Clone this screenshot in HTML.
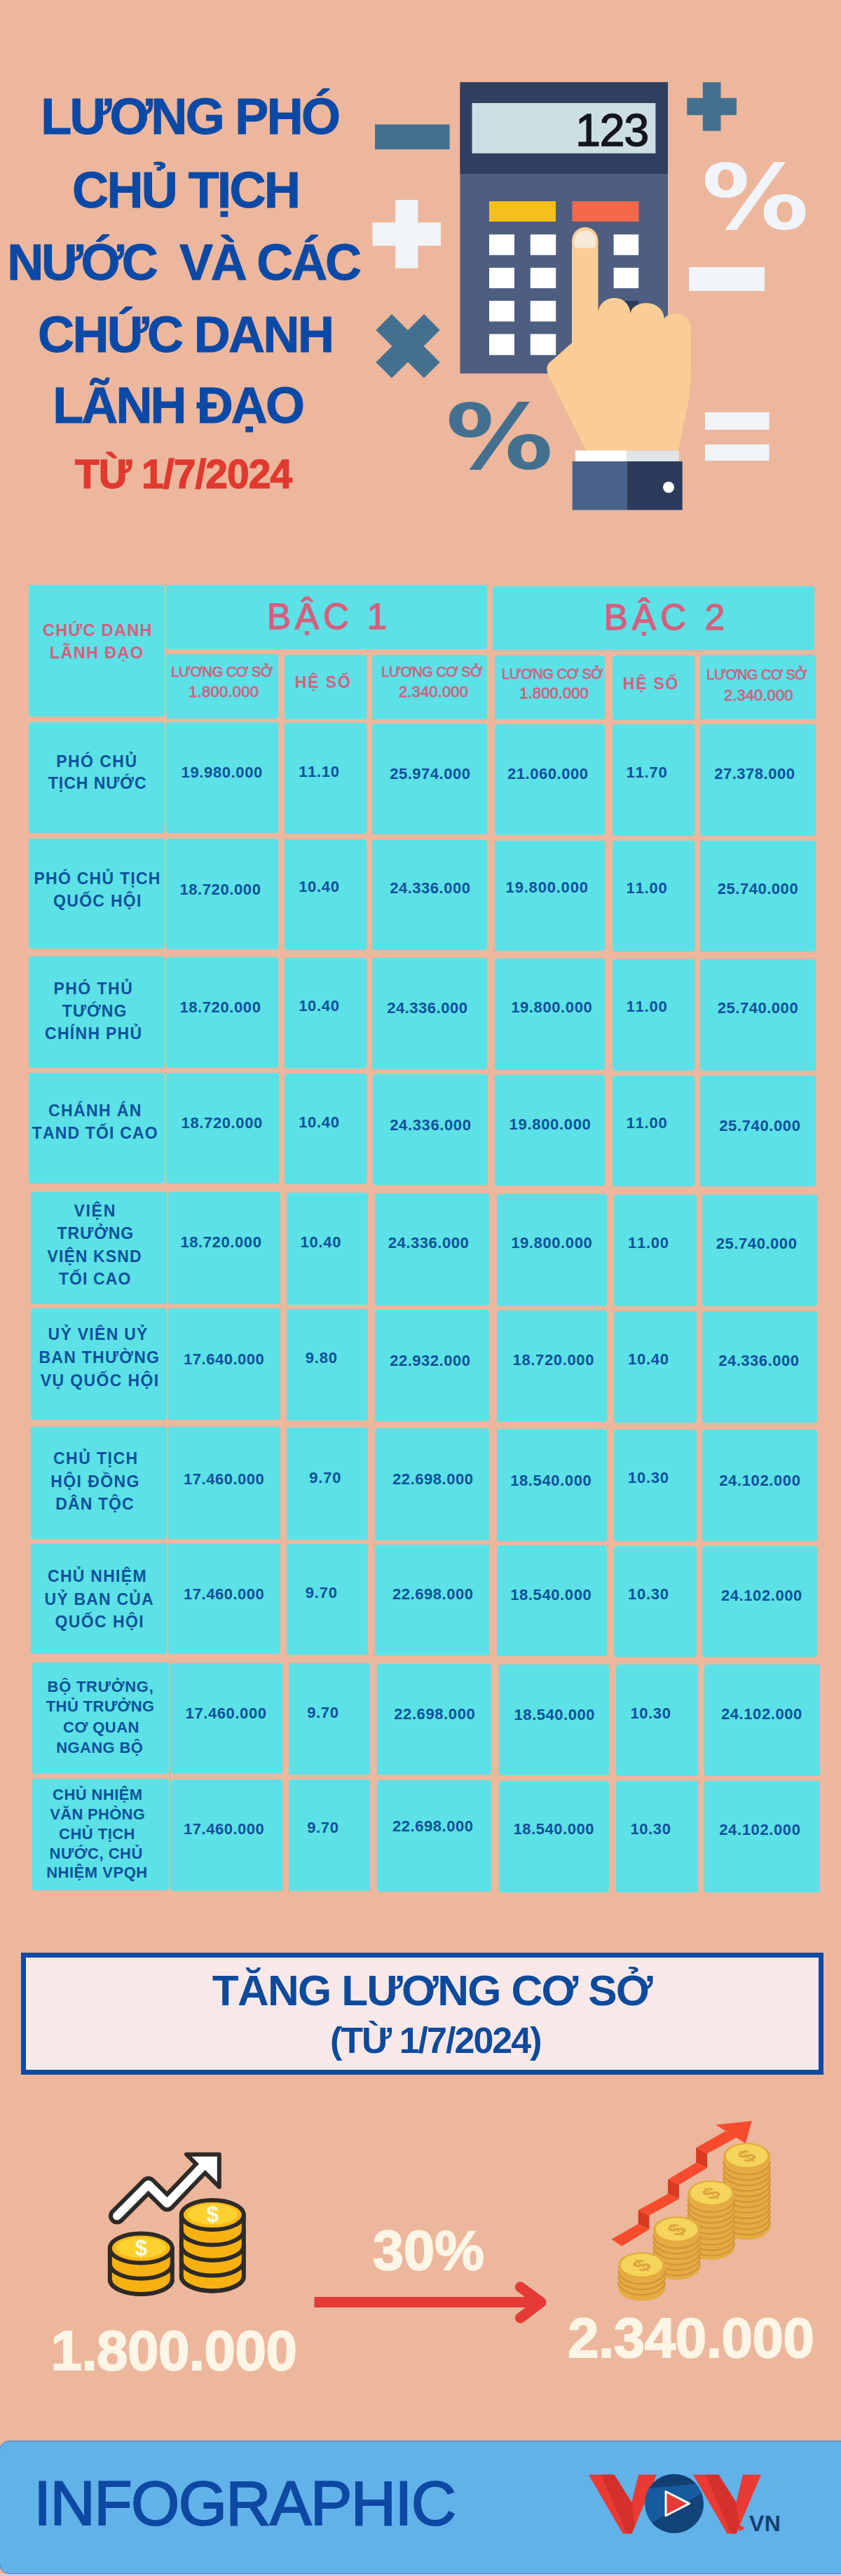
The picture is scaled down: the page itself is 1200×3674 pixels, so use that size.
<!DOCTYPE html>
<html lang="vi"><head><meta charset="utf-8"><title>Infographic</title>
<style>
html,body{margin:0;padding:0}
body{width:1200px;height:3674px;position:relative;overflow:hidden;background:#ecb79d;font-family:"Liberation Sans",sans-serif;font-kerning:none}
.r{position:absolute}
.t{position:absolute;white-space:nowrap;font-kerning:none}
svg{position:absolute;left:0;overflow:visible}
svg text{font-family:"Liberation Sans",sans-serif;font-kerning:none}
</style></head><body>
<svg width="1200" height="800" viewBox="0 0 1200 800" style="top:0">
<g fill="#44708f">
<rect x="535" y="177.5" width="106.6" height="35.5"/>
<rect x="980.3" y="139.8" width="70.7" height="24.4"/>
<rect x="1002.8" y="117.3" width="25.7" height="69.4"/>
<g transform="translate(582,493.7) rotate(45)"><rect x="-48.5" y="-16" width="97" height="32"/><rect x="-16" y="-48.5" width="32" height="97"/></g>
<text transform="translate(640.9,667.9) scale(1.194,1)" x="-4.13" y="0" font-size="128.2" font-weight="700" style="font-family:'DejaVu Sans','Liberation Sans',sans-serif">%</text>
</g>
<g fill="#f1f4f9">
<rect x="531.4" y="317.3" width="97.6" height="33.2"/>
<rect x="564.2" y="285.2" width="32.1" height="97.4"/>
<rect x="983" y="381" width="108" height="34"/>
<rect x="1006" y="588" width="91.6" height="25"/>
<rect x="1006" y="634" width="91.6" height="23"/>
<text transform="translate(1006,326.2) scale(1.194,1)" x="-4.13" y="0" font-size="128.2" font-weight="700" style="font-family:'DejaVu Sans','Liberation Sans',sans-serif">%</text>
</g>
<rect x="656.5" y="117.3" width="296.5" height="415.4" fill="#4e5e80"/>
<rect x="656.5" y="117.3" width="296.5" height="130.7" fill="#2f3f60"/>
<rect x="673.5" y="147" width="261.9" height="71.7" fill="#cddde4"/>
<text x="925" y="207.5" text-anchor="end" font-size="64" fill="#14161c" stroke="#14161c" stroke-width="1.6" letter-spacing="-1">123</text>
<rect x="698" y="287" width="95" height="29" fill="#f6bf1b"/>
<rect x="816.5" y="287" width="95" height="29" fill="#f4694a"/>
<g fill="#ffffff">
<rect x="698" y="334.4" width="36" height="29.4"/><rect x="756.8" y="334.4" width="36.4" height="29.4"/><rect x="875.6" y="334.4" width="35.6" height="29.4"/>
<rect x="698" y="381.9" width="36" height="29.2"/><rect x="756.8" y="381.9" width="36.4" height="29.2"/><rect x="875.6" y="381.9" width="35.6" height="29.2"/>
<rect x="698" y="429" width="36" height="29.5"/><rect x="756.8" y="429" width="36.4" height="29.5"/>
<rect x="698" y="476.4" width="36" height="30"/><rect x="756.8" y="476.4" width="36.4" height="30"/>
</g>
<rect x="875.6" y="429" width="35.6" height="29.5" fill="#2c3c5c"/>
<path fill="#f9cd95" d="M816,343 A18.75,19 0 0 1 853.5,343 L853.5,446 C856,419 897,417 899.5,447 C902,427 946,425 948,455 C950,445 986,440 986,470 L986,532 C986,570 975,605 968,642 L836,642 L786,541 C777,527 779,520 790,512 L816,489 Z"/>
<path fill="#f8ead9" d="M819,343 A15.5,14.5 0 0 1 850,343 L850,349 Q850,353.5 845.5,353.5 L823.5,353.5 Q819,353.5 819,349 Z"/>
<rect x="821" y="642.5" width="73.5" height="15.5" fill="#ffffff"/>
<rect x="894.5" y="642.5" width="74.5" height="15.5" fill="#dfe4e6"/>
<rect x="816.7" y="658" width="77.8" height="69.4" fill="#48628a"/>
<rect x="894.5" y="658" width="79.2" height="69.4" fill="#2b3b5b"/>
<circle cx="954" cy="695" r="8" fill="#ffffff"/>
</svg>

<div class="t" style="left:58.18px;top:130.04px;font-size:72px;line-height:72px;color:#0b49a6;font-weight:700;letter-spacing:-2.66px;-webkit-text-stroke:0.9px #0b49a6;">LƯƠNG PHÓ</div>
<div class="t" style="left:103.05px;top:234.54px;font-size:72px;line-height:72px;color:#0b49a6;font-weight:700;letter-spacing:-2.59px;-webkit-text-stroke:0.9px #0b49a6;">CHỦ TỊCH</div>
<div class="t" style="left:10.18px;top:337.54px;font-size:72px;line-height:72px;color:#0b49a6;font-weight:700;letter-spacing:-3.22px;white-space:pre;-webkit-text-stroke:0.9px #0b49a6;">NƯỚC  VÀ CÁC</div>
<div class="t" style="left:54.05px;top:441.04px;font-size:72px;line-height:72px;color:#0b49a6;font-weight:700;letter-spacing:-2.61px;-webkit-text-stroke:0.9px #0b49a6;">CHỨC DANH</div>
<div class="t" style="left:75.18px;top:542.04px;font-size:72px;line-height:72px;color:#0b49a6;font-weight:700;letter-spacing:-2.88px;-webkit-text-stroke:0.9px #0b49a6;">LÃNH ĐẠO</div>
<div class="t" style="left:106.96px;top:647.74px;font-size:57px;line-height:57px;color:#e0392f;font-weight:700;letter-spacing:-0.95px;-webkit-text-stroke:1.3px #e0392f;">TỪ 1/7/2024</div>
<div class="r" style="left:41.4px;top:833.5px;width:193.2px;height:188.9px;background:#5ce1e6;border-radius:4px;"></div>
<div class="r" style="left:236.8px;top:833.6px;width:458.1px;height:92.6px;background:#5ce1e6;border-radius:4px;"></div>
<div class="r" style="left:703.4px;top:835.8px;width:459.0px;height:91.2px;background:#5ce1e6;border-radius:4px;"></div>
<div class="r" style="left:236.8px;top:932.8px;width:160.5px;height:92.0px;background:#5ce1e6;border-radius:4px;"></div>
<div class="r" style="left:405.7px;top:933.8px;width:117.0px;height:91.8px;background:#5ce1e6;border-radius:4px;"></div>
<div class="r" style="left:530.8px;top:934.3px;width:164.1px;height:91.7px;background:#5ce1e6;border-radius:4px;"></div>
<div class="r" style="left:705.8px;top:934.8px;width:157.5px;height:91.7px;background:#5ce1e6;border-radius:4px;"></div>
<div class="r" style="left:873.7px;top:935.2px;width:117.1px;height:91.8px;background:#5ce1e6;border-radius:4px;"></div>
<div class="r" style="left:998.9px;top:933.8px;width:164.9px;height:92.5px;background:#5ce1e6;border-radius:4px;"></div>
<div class="r" style="left:41.4px;top:1029.5px;width:193.2px;height:158.5px;background:#5ce1e6;border-radius:4px;"></div>
<div class="r" style="left:236.8px;top:1029.9px;width:160.5px;height:158.5px;background:#5ce1e6;border-radius:4px;"></div>
<div class="r" style="left:405.7px;top:1030.8px;width:117.0px;height:158.5px;background:#5ce1e6;border-radius:4px;"></div>
<div class="r" style="left:530.8px;top:1031.6px;width:164.1px;height:158.5px;background:#5ce1e6;border-radius:4px;"></div>
<div class="r" style="left:705.8px;top:1032.5px;width:157.5px;height:158.5px;background:#5ce1e6;border-radius:4px;"></div>
<div class="r" style="left:873.7px;top:1033.3px;width:117.1px;height:158.5px;background:#5ce1e6;border-radius:4px;"></div>
<div class="r" style="left:998.9px;top:1033.3px;width:164.9px;height:158.5px;background:#5ce1e6;border-radius:4px;"></div>
<div class="r" style="left:41.4px;top:1195.5px;width:193.2px;height:157.8px;background:#5ce1e6;border-radius:4px;"></div>
<div class="r" style="left:236.8px;top:1195.9px;width:160.5px;height:157.8px;background:#5ce1e6;border-radius:4px;"></div>
<div class="r" style="left:405.7px;top:1196.8px;width:117.0px;height:157.8px;background:#5ce1e6;border-radius:4px;"></div>
<div class="r" style="left:530.8px;top:1197.6px;width:164.1px;height:157.8px;background:#5ce1e6;border-radius:4px;"></div>
<div class="r" style="left:705.8px;top:1198.5px;width:157.5px;height:157.8px;background:#5ce1e6;border-radius:4px;"></div>
<div class="r" style="left:873.7px;top:1199.3px;width:117.1px;height:157.8px;background:#5ce1e6;border-radius:4px;"></div>
<div class="r" style="left:998.9px;top:1199.3px;width:164.9px;height:157.8px;background:#5ce1e6;border-radius:4px;"></div>
<div class="r" style="left:41.4px;top:1364.3px;width:193.2px;height:158.5px;background:#5ce1e6;border-radius:4px;"></div>
<div class="r" style="left:236.8px;top:1364.7px;width:160.5px;height:158.5px;background:#5ce1e6;border-radius:4px;"></div>
<div class="r" style="left:405.7px;top:1365.6px;width:117.0px;height:158.5px;background:#5ce1e6;border-radius:4px;"></div>
<div class="r" style="left:530.8px;top:1366.4px;width:164.1px;height:158.5px;background:#5ce1e6;border-radius:4px;"></div>
<div class="r" style="left:705.8px;top:1367.3px;width:157.5px;height:158.5px;background:#5ce1e6;border-radius:4px;"></div>
<div class="r" style="left:873.7px;top:1368.1px;width:117.1px;height:158.5px;background:#5ce1e6;border-radius:4px;"></div>
<div class="r" style="left:998.9px;top:1368.1px;width:164.9px;height:158.5px;background:#5ce1e6;border-radius:4px;"></div>
<div class="r" style="left:41.4px;top:1529.7px;width:193.3px;height:158.3px;background:#5ce1e6;border-radius:4px;"></div>
<div class="r" style="left:236.8px;top:1530.1px;width:161.7px;height:158.3px;background:#5ce1e6;border-radius:4px;"></div>
<div class="r" style="left:405.7px;top:1531.0px;width:117.0px;height:158.3px;background:#5ce1e6;border-radius:4px;"></div>
<div class="r" style="left:532.0px;top:1531.8px;width:163.8px;height:158.3px;background:#5ce1e6;border-radius:4px;"></div>
<div class="r" style="left:705.8px;top:1532.7px;width:157.5px;height:158.3px;background:#5ce1e6;border-radius:4px;"></div>
<div class="r" style="left:873.7px;top:1533.5px;width:117.3px;height:158.3px;background:#5ce1e6;border-radius:4px;"></div>
<div class="r" style="left:998.9px;top:1533.5px;width:164.9px;height:158.3px;background:#5ce1e6;border-radius:4px;"></div>
<div class="r" style="left:43.5px;top:1700.0px;width:194.1px;height:159.5px;background:#5ce1e6;border-radius:4px;"></div>
<div class="r" style="left:239.6px;top:1700.4px;width:160.4px;height:159.5px;background:#5ce1e6;border-radius:4px;"></div>
<div class="r" style="left:408.6px;top:1701.3px;width:116.4px;height:159.5px;background:#5ce1e6;border-radius:4px;"></div>
<div class="r" style="left:534.6px;top:1702.1px;width:163.4px;height:159.5px;background:#5ce1e6;border-radius:4px;"></div>
<div class="r" style="left:709.0px;top:1703.0px;width:156.6px;height:159.5px;background:#5ce1e6;border-radius:4px;"></div>
<div class="r" style="left:876.0px;top:1703.8px;width:117.8px;height:159.5px;background:#5ce1e6;border-radius:4px;"></div>
<div class="r" style="left:1001.6px;top:1703.8px;width:164.4px;height:159.5px;background:#5ce1e6;border-radius:4px;"></div>
<div class="r" style="left:43.8px;top:1866.0px;width:193.8px;height:159.0px;background:#5ce1e6;border-radius:4px;"></div>
<div class="r" style="left:239.6px;top:1866.4px;width:160.9px;height:159.0px;background:#5ce1e6;border-radius:4px;"></div>
<div class="r" style="left:408.6px;top:1867.3px;width:116.4px;height:159.0px;background:#5ce1e6;border-radius:4px;"></div>
<div class="r" style="left:534.6px;top:1868.1px;width:163.4px;height:159.0px;background:#5ce1e6;border-radius:4px;"></div>
<div class="r" style="left:709.0px;top:1869.0px;width:156.6px;height:159.0px;background:#5ce1e6;border-radius:4px;"></div>
<div class="r" style="left:876.0px;top:1869.8px;width:118.0px;height:159.0px;background:#5ce1e6;border-radius:4px;"></div>
<div class="r" style="left:1001.6px;top:1869.8px;width:164.4px;height:159.0px;background:#5ce1e6;border-radius:4px;"></div>
<div class="r" style="left:43.8px;top:2034.7px;width:193.8px;height:159.9px;background:#5ce1e6;border-radius:4px;"></div>
<div class="r" style="left:239.6px;top:2035.1px;width:160.9px;height:159.9px;background:#5ce1e6;border-radius:4px;"></div>
<div class="r" style="left:408.6px;top:2036.0px;width:116.4px;height:159.9px;background:#5ce1e6;border-radius:4px;"></div>
<div class="r" style="left:534.6px;top:2036.8px;width:163.4px;height:159.9px;background:#5ce1e6;border-radius:4px;"></div>
<div class="r" style="left:709.0px;top:2037.7px;width:156.6px;height:159.9px;background:#5ce1e6;border-radius:4px;"></div>
<div class="r" style="left:876.0px;top:2038.5px;width:118.0px;height:159.9px;background:#5ce1e6;border-radius:4px;"></div>
<div class="r" style="left:1001.6px;top:2038.5px;width:164.4px;height:159.9px;background:#5ce1e6;border-radius:4px;"></div>
<div class="r" style="left:43.8px;top:2201.0px;width:193.8px;height:158.0px;background:#5ce1e6;border-radius:4px;"></div>
<div class="r" style="left:239.6px;top:2201.4px;width:160.9px;height:158.0px;background:#5ce1e6;border-radius:4px;"></div>
<div class="r" style="left:408.6px;top:2202.3px;width:116.4px;height:158.0px;background:#5ce1e6;border-radius:4px;"></div>
<div class="r" style="left:534.6px;top:2203.1px;width:163.4px;height:158.0px;background:#5ce1e6;border-radius:4px;"></div>
<div class="r" style="left:709.0px;top:2204.0px;width:156.6px;height:158.0px;background:#5ce1e6;border-radius:4px;"></div>
<div class="r" style="left:876.0px;top:2204.8px;width:118.0px;height:158.0px;background:#5ce1e6;border-radius:4px;"></div>
<div class="r" style="left:1001.6px;top:2204.8px;width:164.4px;height:158.0px;background:#5ce1e6;border-radius:4px;"></div>
<div class="r" style="left:46.0px;top:2371.4px;width:195.3px;height:158.6px;background:#5ce1e6;border-radius:4px;"></div>
<div class="r" style="left:243.3px;top:2371.7px;width:159.7px;height:158.6px;background:#5ce1e6;border-radius:4px;"></div>
<div class="r" style="left:411.9px;top:2372.3px;width:116.5px;height:158.6px;background:#5ce1e6;border-radius:4px;"></div>
<div class="r" style="left:538.0px;top:2372.9px;width:163.0px;height:158.6px;background:#5ce1e6;border-radius:4px;"></div>
<div class="r" style="left:711.5px;top:2373.6px;width:157.5px;height:158.6px;background:#5ce1e6;border-radius:4px;"></div>
<div class="r" style="left:879.4px;top:2374.1px;width:117.1px;height:158.6px;background:#5ce1e6;border-radius:4px;"></div>
<div class="r" style="left:1005.0px;top:2374.1px;width:165.0px;height:158.6px;background:#5ce1e6;border-radius:4px;"></div>
<div class="r" style="left:46.0px;top:2537.3px;width:195.3px;height:159.1px;background:#5ce1e6;border-radius:4px;"></div>
<div class="r" style="left:243.3px;top:2537.6px;width:159.7px;height:159.1px;background:#5ce1e6;border-radius:4px;"></div>
<div class="r" style="left:411.9px;top:2538.2px;width:116.5px;height:159.1px;background:#5ce1e6;border-radius:4px;"></div>
<div class="r" style="left:538.0px;top:2538.8px;width:163.0px;height:159.1px;background:#5ce1e6;border-radius:4px;"></div>
<div class="r" style="left:711.5px;top:2539.5px;width:157.5px;height:159.1px;background:#5ce1e6;border-radius:4px;"></div>
<div class="r" style="left:879.4px;top:2540.0px;width:117.1px;height:159.1px;background:#5ce1e6;border-radius:4px;"></div>
<div class="r" style="left:1005.0px;top:2540.0px;width:165.0px;height:159.1px;background:#5ce1e6;border-radius:4px;"></div>
<div class="t" style="left:60.94px;top:888.40px;font-size:23.5px;line-height:23.5px;color:#d75e7e;font-weight:700;letter-spacing:1.35px;">CHỨC DANH</div>
<div class="t" style="left:70.73px;top:920.40px;font-size:23.5px;line-height:23.5px;color:#d75e7e;font-weight:700;letter-spacing:1.32px;">LÃNH ĐẠO</div>
<div class="t" style="left:380.78px;top:854.39px;font-size:51.5px;line-height:51.5px;color:#d75e7e;font-weight:400;letter-spacing:5.65px;-webkit-text-stroke:1.3px #d75e7e;">BẬC 1</div>
<div class="t" style="left:861.38px;top:854.89px;font-size:51.5px;line-height:51.5px;color:#d75e7e;font-weight:400;letter-spacing:5.99px;-webkit-text-stroke:1.3px #d75e7e;">BẬC 2</div>
<div class="t" style="left:244.36px;top:948.07px;font-size:20px;line-height:20px;color:#cf6282;font-weight:400;letter-spacing:-0.38px;-webkit-text-stroke:0.8px #cf6282;">LƯƠNG CƠ SỞ</div>
<div class="t" style="left:269.32px;top:975.97px;font-size:22px;line-height:22px;color:#cf6282;font-weight:400;letter-spacing:0.21px;-webkit-text-stroke:0.8px #cf6282;">1.800.000</div>
<div class="t" style="left:420.86px;top:962.23px;font-size:23px;line-height:23px;color:#d75e7e;font-weight:700;letter-spacing:1.88px;">HỆ SỐ</div>
<div class="t" style="left:544.36px;top:948.07px;font-size:20px;line-height:20px;color:#cf6282;font-weight:400;letter-spacing:-0.46px;-webkit-text-stroke:0.8px #cf6282;">LƯƠNG CƠ SỞ</div>
<div class="t" style="left:568.89px;top:975.97px;font-size:22px;line-height:22px;color:#cf6282;font-weight:400;letter-spacing:0.14px;-webkit-text-stroke:0.8px #cf6282;">2.340.000</div>
<div class="t" style="left:716.06px;top:950.57px;font-size:20px;line-height:20px;color:#cf6282;font-weight:400;letter-spacing:-0.41px;-webkit-text-stroke:0.8px #cf6282;">LƯƠNG CƠ SỞ</div>
<div class="t" style="left:741.32px;top:977.87px;font-size:22px;line-height:22px;color:#cf6282;font-weight:400;letter-spacing:0.08px;-webkit-text-stroke:0.8px #cf6282;">1.800.000</div>
<div class="t" style="left:888.86px;top:963.53px;font-size:23px;line-height:23px;color:#d75e7e;font-weight:700;letter-spacing:1.76px;">HỆ SỐ</div>
<div class="t" style="left:1008.36px;top:951.97px;font-size:20px;line-height:20px;color:#cf6282;font-weight:400;letter-spacing:-0.54px;-webkit-text-stroke:0.8px #cf6282;">LƯƠNG CƠ SỞ</div>
<div class="t" style="left:1032.89px;top:980.67px;font-size:22px;line-height:22px;color:#cf6282;font-weight:400;letter-spacing:0.09px;-webkit-text-stroke:0.8px #cf6282;">2.340.000</div>
<div class="t" style="left:258.61px;top:1091.37px;font-size:22px;line-height:22px;color:#0c519b;font-weight:700;letter-spacing:0.62px;">19.980.000</div>
<div class="t" style="left:426.21px;top:1090.07px;font-size:22px;line-height:22px;color:#0c519b;font-weight:700;letter-spacing:0.66px;">11.10</div>
<div class="t" style="left:556.24px;top:1092.97px;font-size:22px;line-height:22px;color:#0c519b;font-weight:700;letter-spacing:0.51px;">25.974.000</div>
<div class="t" style="left:724.04px;top:1092.97px;font-size:22px;line-height:22px;color:#0c519b;font-weight:700;letter-spacing:0.53px;">21.060.000</div>
<div class="t" style="left:893.61px;top:1091.37px;font-size:22px;line-height:22px;color:#0c519b;font-weight:700;letter-spacing:0.76px;">11.70</div>
<div class="t" style="left:1019.24px;top:1092.97px;font-size:22px;line-height:22px;color:#0c519b;font-weight:700;letter-spacing:0.51px;">27.378.000</div>
<div class="t" style="left:256.41px;top:1257.97px;font-size:22px;line-height:22px;color:#0c519b;font-weight:700;letter-spacing:0.60px;">18.720.000</div>
<div class="t" style="left:426.21px;top:1254.17px;font-size:22px;line-height:22px;color:#0c519b;font-weight:700;letter-spacing:0.66px;">10.40</div>
<div class="t" style="left:556.24px;top:1256.37px;font-size:22px;line-height:22px;color:#0c519b;font-weight:700;letter-spacing:0.51px;">24.336.000</div>
<div class="t" style="left:721.61px;top:1255.37px;font-size:22px;line-height:22px;color:#0c519b;font-weight:700;letter-spacing:0.80px;">19.800.000</div>
<div class="t" style="left:893.61px;top:1256.37px;font-size:22px;line-height:22px;color:#0c519b;font-weight:700;letter-spacing:0.76px;">11.00</div>
<div class="t" style="left:1023.74px;top:1256.97px;font-size:22px;line-height:22px;color:#0c519b;font-weight:700;letter-spacing:0.53px;">25.740.000</div>
<div class="t" style="left:256.41px;top:1425.97px;font-size:22px;line-height:22px;color:#0c519b;font-weight:700;letter-spacing:0.60px;">18.720.000</div>
<div class="t" style="left:426.21px;top:1424.37px;font-size:22px;line-height:22px;color:#0c519b;font-weight:700;letter-spacing:0.66px;">10.40</div>
<div class="t" style="left:552.24px;top:1427.37px;font-size:22px;line-height:22px;color:#0c519b;font-weight:700;letter-spacing:0.51px;">24.336.000</div>
<div class="t" style="left:729.21px;top:1425.97px;font-size:22px;line-height:22px;color:#0c519b;font-weight:700;letter-spacing:0.60px;">19.800.000</div>
<div class="t" style="left:893.61px;top:1425.07px;font-size:22px;line-height:22px;color:#0c519b;font-weight:700;letter-spacing:0.76px;">11.00</div>
<div class="t" style="left:1023.74px;top:1427.37px;font-size:22px;line-height:22px;color:#0c519b;font-weight:700;letter-spacing:0.53px;">25.740.000</div>
<div class="t" style="left:258.61px;top:1591.37px;font-size:22px;line-height:22px;color:#0c519b;font-weight:700;letter-spacing:0.62px;">18.720.000</div>
<div class="t" style="left:426.21px;top:1590.07px;font-size:22px;line-height:22px;color:#0c519b;font-weight:700;letter-spacing:0.66px;">10.40</div>
<div class="t" style="left:556.24px;top:1593.87px;font-size:22px;line-height:22px;color:#0c519b;font-weight:700;letter-spacing:0.62px;">24.336.000</div>
<div class="t" style="left:726.61px;top:1593.37px;font-size:22px;line-height:22px;color:#0c519b;font-weight:700;letter-spacing:0.68px;">19.800.000</div>
<div class="t" style="left:893.61px;top:1591.07px;font-size:22px;line-height:22px;color:#0c519b;font-weight:700;letter-spacing:0.76px;">11.00</div>
<div class="t" style="left:1026.24px;top:1594.87px;font-size:22px;line-height:22px;color:#0c519b;font-weight:700;letter-spacing:0.62px;">25.740.000</div>
<div class="t" style="left:257.41px;top:1761.37px;font-size:22px;line-height:22px;color:#0c519b;font-weight:700;letter-spacing:0.60px;">18.720.000</div>
<div class="t" style="left:428.61px;top:1761.37px;font-size:22px;line-height:22px;color:#0c519b;font-weight:700;letter-spacing:0.71px;">10.40</div>
<div class="t" style="left:553.84px;top:1762.37px;font-size:22px;line-height:22px;color:#0c519b;font-weight:700;letter-spacing:0.53px;">24.336.000</div>
<div class="t" style="left:729.21px;top:1762.37px;font-size:22px;line-height:22px;color:#0c519b;font-weight:700;letter-spacing:0.60px;">19.800.000</div>
<div class="t" style="left:896.11px;top:1762.37px;font-size:22px;line-height:22px;color:#0c519b;font-weight:700;letter-spacing:0.68px;">11.00</div>
<div class="t" style="left:1021.84px;top:1762.77px;font-size:22px;line-height:22px;color:#0c519b;font-weight:700;letter-spacing:0.55px;">25.740.000</div>
<div class="t" style="left:262.11px;top:1927.87px;font-size:22px;line-height:22px;color:#0c519b;font-weight:700;letter-spacing:0.50px;">17.640.000</div>
<div class="t" style="left:435.84px;top:1926.37px;font-size:22px;line-height:22px;color:#0c519b;font-weight:700;letter-spacing:0.75px;">9.80</div>
<div class="t" style="left:556.24px;top:1929.87px;font-size:22px;line-height:22px;color:#0c519b;font-weight:700;letter-spacing:0.51px;">22.932.000</div>
<div class="t" style="left:731.61px;top:1928.87px;font-size:22px;line-height:22px;color:#0c519b;font-weight:700;letter-spacing:0.64px;">18.720.000</div>
<div class="t" style="left:896.11px;top:1927.97px;font-size:22px;line-height:22px;color:#0c519b;font-weight:700;letter-spacing:0.68px;">10.40</div>
<div class="t" style="left:1025.24px;top:1930.37px;font-size:22px;line-height:22px;color:#0c519b;font-weight:700;letter-spacing:0.51px;">24.336.000</div>
<div class="t" style="left:262.11px;top:2099.17px;font-size:22px;line-height:22px;color:#0c519b;font-weight:700;letter-spacing:0.50px;">17.460.000</div>
<div class="t" style="left:441.14px;top:2097.37px;font-size:22px;line-height:22px;color:#0c519b;font-weight:700;letter-spacing:0.85px;">9.70</div>
<div class="t" style="left:560.04px;top:2099.17px;font-size:22px;line-height:22px;color:#0c519b;font-weight:700;letter-spacing:0.53px;">22.698.000</div>
<div class="t" style="left:728.21px;top:2101.37px;font-size:22px;line-height:22px;color:#0c519b;font-weight:700;letter-spacing:0.60px;">18.540.000</div>
<div class="t" style="left:896.11px;top:2097.37px;font-size:22px;line-height:22px;color:#0c519b;font-weight:700;letter-spacing:0.68px;">10.30</div>
<div class="t" style="left:1026.24px;top:2101.07px;font-size:22px;line-height:22px;color:#0c519b;font-weight:700;letter-spacing:0.62px;">24.102.000</div>
<div class="t" style="left:262.11px;top:2262.77px;font-size:22px;line-height:22px;color:#0c519b;font-weight:700;letter-spacing:0.50px;">17.460.000</div>
<div class="t" style="left:435.84px;top:2260.87px;font-size:22px;line-height:22px;color:#0c519b;font-weight:700;letter-spacing:0.75px;">9.70</div>
<div class="t" style="left:560.04px;top:2262.77px;font-size:22px;line-height:22px;color:#0c519b;font-weight:700;letter-spacing:0.53px;">22.698.000</div>
<div class="t" style="left:728.21px;top:2264.17px;font-size:22px;line-height:22px;color:#0c519b;font-weight:700;letter-spacing:0.60px;">18.540.000</div>
<div class="t" style="left:896.11px;top:2262.77px;font-size:22px;line-height:22px;color:#0c519b;font-weight:700;letter-spacing:0.68px;">10.30</div>
<div class="t" style="left:1028.94px;top:2265.17px;font-size:22px;line-height:22px;color:#0c519b;font-weight:700;letter-spacing:0.58px;">24.102.000</div>
<div class="t" style="left:264.61px;top:2433.17px;font-size:22px;line-height:22px;color:#0c519b;font-weight:700;letter-spacing:0.58px;">17.460.000</div>
<div class="t" style="left:438.24px;top:2432.17px;font-size:22px;line-height:22px;color:#0c519b;font-weight:700;letter-spacing:0.62px;">9.70</div>
<div class="t" style="left:562.24px;top:2434.37px;font-size:22px;line-height:22px;color:#0c519b;font-weight:700;letter-spacing:0.60px;">22.698.000</div>
<div class="t" style="left:733.61px;top:2435.37px;font-size:22px;line-height:22px;color:#0c519b;font-weight:700;letter-spacing:0.53px;">18.540.000</div>
<div class="t" style="left:899.41px;top:2433.17px;font-size:22px;line-height:22px;color:#0c519b;font-weight:700;letter-spacing:0.61px;">10.30</div>
<div class="t" style="left:1028.94px;top:2434.37px;font-size:22px;line-height:22px;color:#0c519b;font-weight:700;letter-spacing:0.58px;">24.102.000</div>
<div class="t" style="left:262.11px;top:2598.37px;font-size:22px;line-height:22px;color:#0c519b;font-weight:700;letter-spacing:0.50px;">17.460.000</div>
<div class="t" style="left:438.24px;top:2596.37px;font-size:22px;line-height:22px;color:#0c519b;font-weight:700;letter-spacing:0.62px;">9.70</div>
<div class="t" style="left:560.04px;top:2593.87px;font-size:22px;line-height:22px;color:#0c519b;font-weight:700;letter-spacing:0.53px;">22.698.000</div>
<div class="t" style="left:732.61px;top:2598.17px;font-size:22px;line-height:22px;color:#0c519b;font-weight:700;letter-spacing:0.53px;">18.540.000</div>
<div class="t" style="left:899.41px;top:2598.17px;font-size:22px;line-height:22px;color:#0c519b;font-weight:700;letter-spacing:0.61px;">10.30</div>
<div class="t" style="left:1026.24px;top:2599.37px;font-size:22px;line-height:22px;color:#0c519b;font-weight:700;letter-spacing:0.62px;">24.102.000</div>
<div class="t" style="left:80.26px;top:1074.93px;font-size:23px;line-height:23px;color:#0c519b;font-weight:700;letter-spacing:1.45px;">PHÓ CHỦ</div>
<div class="t" style="left:68.74px;top:1106.33px;font-size:23px;line-height:23px;color:#0c519b;font-weight:700;letter-spacing:0.98px;">TỊCH NƯỚC</div>
<div class="t" style="left:48.46px;top:1241.53px;font-size:23px;line-height:23px;color:#0c519b;font-weight:700;letter-spacing:1.26px;">PHÓ CHỦ TỊCH</div>
<div class="t" style="left:76.06px;top:1273.53px;font-size:23px;line-height:23px;color:#0c519b;font-weight:700;letter-spacing:1.29px;">QUỐC HỘI</div>
<div class="t" style="left:76.46px;top:1399.03px;font-size:23px;line-height:23px;color:#0c519b;font-weight:700;letter-spacing:1.47px;">PHÓ THỦ</div>
<div class="t" style="left:88.74px;top:1430.53px;font-size:23px;line-height:23px;color:#0c519b;font-weight:700;letter-spacing:1.11px;">TƯỚNG</div>
<div class="t" style="left:64.06px;top:1463.23px;font-size:23px;line-height:23px;color:#0c519b;font-weight:700;letter-spacing:1.28px;">CHÍNH PHỦ</div>
<div class="t" style="left:69.06px;top:1572.53px;font-size:23px;line-height:23px;color:#0c519b;font-weight:700;letter-spacing:1.38px;">CHÁNH ÁN</div>
<div class="t" style="left:45.74px;top:1604.93px;font-size:23px;line-height:23px;color:#0c519b;font-weight:700;letter-spacing:1.16px;">TAND TỐI CAO</div>
<div class="t" style="left:105.44px;top:1716.23px;font-size:23px;line-height:23px;color:#0c519b;font-weight:700;letter-spacing:1.71px;">VIỆN</div>
<div class="t" style="left:81.54px;top:1747.53px;font-size:23px;line-height:23px;color:#0c519b;font-weight:700;letter-spacing:0.97px;">TRƯỞNG</div>
<div class="t" style="left:67.44px;top:1780.53px;font-size:23px;line-height:23px;color:#0c519b;font-weight:700;letter-spacing:1.12px;">VIỆN KSND</div>
<div class="t" style="left:83.74px;top:1812.53px;font-size:23px;line-height:23px;color:#0c519b;font-weight:700;letter-spacing:1.15px;">TỐI CAO</div>
<div class="t" style="left:68.62px;top:1892.33px;font-size:23px;line-height:23px;color:#0c519b;font-weight:700;letter-spacing:1.27px;">UỶ VIÊN UỶ</div>
<div class="t" style="left:55.46px;top:1924.53px;font-size:23px;line-height:23px;color:#0c519b;font-weight:700;letter-spacing:1.27px;">BAN THƯỜNG</div>
<div class="t" style="left:57.84px;top:1957.53px;font-size:23px;line-height:23px;color:#0c519b;font-weight:700;letter-spacing:1.36px;">VỤ QUỐC HỘI</div>
<div class="t" style="left:76.06px;top:2069.33px;font-size:23px;line-height:23px;color:#0c519b;font-weight:700;letter-spacing:1.46px;">CHỦ TỊCH</div>
<div class="t" style="left:72.16px;top:2101.53px;font-size:23px;line-height:23px;color:#0c519b;font-weight:700;letter-spacing:1.43px;">HỘI ĐỒNG</div>
<div class="t" style="left:79.36px;top:2133.93px;font-size:23px;line-height:23px;color:#0c519b;font-weight:700;letter-spacing:1.08px;">DÂN TỘC</div>
<div class="t" style="left:68.06px;top:2237.23px;font-size:23px;line-height:23px;color:#0c519b;font-weight:700;letter-spacing:1.27px;">CHỦ NHIỆM</div>
<div class="t" style="left:63.62px;top:2269.53px;font-size:23px;line-height:23px;color:#0c519b;font-weight:700;letter-spacing:1.18px;">UỶ BAN CỦA</div>
<div class="t" style="left:78.56px;top:2302.33px;font-size:23px;line-height:23px;color:#0c519b;font-weight:700;letter-spacing:1.39px;">QUỐC HỘI</div>
<div class="t" style="left:67.53px;top:2395.07px;font-size:22px;line-height:22px;color:#0c519b;font-weight:700;letter-spacing:0.75px;">BỘ TRƯỞNG,</div>
<div class="t" style="left:65.75px;top:2423.37px;font-size:22px;line-height:22px;color:#0c519b;font-weight:700;letter-spacing:0.42px;">THỦ TRƯỞNG</div>
<div class="t" style="left:90.10px;top:2453.37px;font-size:22px;line-height:22px;color:#0c519b;font-weight:700;letter-spacing:0.47px;">CƠ QUAN</div>
<div class="t" style="left:80.33px;top:2482.17px;font-size:22px;line-height:22px;color:#0c519b;font-weight:700;letter-spacing:0.37px;">NGANG BỘ</div>
<div class="t" style="left:75.10px;top:2549.37px;font-size:22px;line-height:22px;color:#0c519b;font-weight:700;letter-spacing:0.43px;">CHỦ NHIỆM</div>
<div class="t" style="left:71.25px;top:2577.37px;font-size:22px;line-height:22px;color:#0c519b;font-weight:700;letter-spacing:0.30px;">VĂN PHÒNG</div>
<div class="t" style="left:84.10px;top:2605.37px;font-size:22px;line-height:22px;color:#0c519b;font-weight:700;letter-spacing:0.47px;">CHỦ TỊCH</div>
<div class="t" style="left:70.53px;top:2632.87px;font-size:22px;line-height:22px;color:#0c519b;font-weight:700;letter-spacing:0.52px;">NƯỚC, CHỦ</div>
<div class="t" style="left:66.13px;top:2660.37px;font-size:22px;line-height:22px;color:#0c519b;font-weight:700;letter-spacing:0.53px;">NHIỆM VPQH</div>
<div class="r" style="left:30.4px;top:2785px;width:1144.6px;height:173.6px;box-sizing:border-box;border:7.6px solid #10499f;background:#f8e9e8"></div>
<div class="t" style="left:302.80px;top:2807.90px;font-size:62px;line-height:62px;color:#0e4a9c;font-weight:700;letter-spacing:-1.70px;">TĂNG LƯƠNG CƠ SỞ</div>
<div class="t" style="left:470.91px;top:2883.97px;font-size:52px;line-height:52px;color:#0e4a9c;font-weight:700;letter-spacing:-1.98px;">(TỪ 1/7/2024)</div>
<div class="t" style="left:72.46px;top:3312.56px;font-size:80px;line-height:80px;color:#fdf5e6;font-weight:700;letter-spacing:-0.56px;-webkit-text-stroke:1.8px #fdf5e6;">1.800.000</div>
<div class="t" style="left:810.03px;top:3294.56px;font-size:80px;line-height:80px;color:#fdf5e6;font-weight:700;letter-spacing:-0.48px;-webkit-text-stroke:1.8px #fdf5e6;">2.340.000</div>
<div class="t" style="left:531.68px;top:3170.39px;font-size:79.5px;line-height:79.5px;color:#fdf5e6;font-weight:700;letter-spacing:0.10px;-webkit-text-stroke:1.8px #fdf5e6;">30%</div>
<div class="r" style="left:-1px;top:3481px;width:1210px;height:189.5px;box-sizing:border-box;border:1.5px solid #4f74b8;border-radius:14px 0 0 14px;background:#62b2ea"></div>
<div class="r" style="left:0.0px;top:3670.5px;width:1200.0px;height:3.5px;background:#c9c9ea;"></div>
<div class="t" style="left:48.19px;top:3525.64px;font-size:89px;line-height:89px;color:#0d49a3;font-weight:400;letter-spacing:-1.53px;-webkit-text-stroke:2.1px #0d49a3;">INFOGRAPHIC</div>
<svg width="1200" height="340" viewBox="0 2990 1200 340" style="top:2990px">
<path d="M258.8,3159.0 L258.8,3246.4 A44.5,21.0 0 0 0 347.8,3246.4 L347.8,3159.0 Z" fill="#f7b212" stroke="#2e2a27" stroke-width="6" stroke-linejoin="round"/>
<path d="M258.8,3180.8 A44.5,21.0 0 0 0 347.8,3180.8" fill="none" stroke="#2e2a27" stroke-width="6"/>
<path d="M258.8,3202.7 A44.5,21.0 0 0 0 347.8,3202.7" fill="none" stroke="#2e2a27" stroke-width="6"/>
<path d="M258.8,3224.6 A44.5,21.0 0 0 0 347.8,3224.6" fill="none" stroke="#2e2a27" stroke-width="6"/>
<path d="M258.8,3246.4 A44.5,21.0 0 0 0 347.8,3246.4" fill="none" stroke="#2e2a27" stroke-width="6"/>
<ellipse cx="303.3" cy="3159.0" rx="44.5" ry="21.0" fill="#f9b916" stroke="#2e2a27" stroke-width="6"/>
<ellipse cx="303.3" cy="3158.0" rx="35.5" ry="15.0" fill="#fdd12f"/>
<text x="303.3" y="3169.0" text-anchor="middle" font-size="31" font-weight="700" fill="#fffbe8">$</text>
<path d="M156.8,3206.5 L156.8,3251.0 A44.5,21.0 0 0 0 245.8,3251.0 L245.8,3206.5 Z" fill="#f7b212" stroke="#2e2a27" stroke-width="6" stroke-linejoin="round"/>
<path d="M156.8,3228.8 A44.5,21.0 0 0 0 245.8,3228.8" fill="none" stroke="#2e2a27" stroke-width="6"/>
<path d="M156.8,3251.0 A44.5,21.0 0 0 0 245.8,3251.0" fill="none" stroke="#2e2a27" stroke-width="6"/>
<ellipse cx="201.3" cy="3206.5" rx="44.5" ry="21.0" fill="#f9b916" stroke="#2e2a27" stroke-width="6"/>
<ellipse cx="201.3" cy="3205.5" rx="35.5" ry="15.0" fill="#fdd12f"/>
<text x="201.3" y="3216.5" text-anchor="middle" font-size="31" font-weight="700" fill="#fffbe8">$</text>
<polyline points="167,3160.4 211.7,3115.8 238.5,3142.6 286,3093" fill="none" stroke="#2e2a27" stroke-width="24" stroke-linejoin="round" stroke-linecap="round"/>
<polygon points="266,3072.7 312.8,3072.7 312.8,3119" fill="#ffffff" stroke="#2e2a27" stroke-width="6" stroke-linejoin="round"/>
<polyline points="167,3160.4 211.7,3115.8 238.5,3142.6 286,3093" fill="none" stroke="#ffffff" stroke-width="12" stroke-linejoin="round" stroke-linecap="round"/>
<polyline points="283,3096 295,3084" fill="none" stroke="#ffffff" stroke-width="12"/>
<path d="M448.5,3283.5 L770,3283.5" stroke="#e53a35" stroke-width="15" fill="none"/>
<polyline points="742.5,3262 772,3283.5 742.5,3306" stroke="#e53a35" stroke-width="15" fill="none" stroke-linecap="round" stroke-linejoin="round"/>
<path d="M1032.1,3075.0 L1032.1,3175.7 A33.4,18.7 0 0 0 1098.9,3175.7 L1098.9,3075.0 Z" fill="#e6ab42"/>
<path d="M1032.1,3082.8 A33.4,18.7 0 0 0 1098.9,3082.8" fill="none" stroke="#cf9538" stroke-width="2.2"/>
<path d="M1032.1,3090.6 A33.4,18.7 0 0 0 1098.9,3090.6" fill="none" stroke="#cf9538" stroke-width="2.2"/>
<path d="M1032.1,3098.4 A33.4,18.7 0 0 0 1098.9,3098.4" fill="none" stroke="#cf9538" stroke-width="2.2"/>
<path d="M1032.1,3106.2 A33.4,18.7 0 0 0 1098.9,3106.2" fill="none" stroke="#cf9538" stroke-width="2.2"/>
<path d="M1032.1,3114.0 A33.4,18.7 0 0 0 1098.9,3114.0" fill="none" stroke="#cf9538" stroke-width="2.2"/>
<path d="M1032.1,3121.8 A33.4,18.7 0 0 0 1098.9,3121.8" fill="none" stroke="#cf9538" stroke-width="2.2"/>
<path d="M1032.1,3129.6 A33.4,18.7 0 0 0 1098.9,3129.6" fill="none" stroke="#cf9538" stroke-width="2.2"/>
<path d="M1032.1,3137.4 A33.4,18.7 0 0 0 1098.9,3137.4" fill="none" stroke="#cf9538" stroke-width="2.2"/>
<path d="M1032.1,3145.2 A33.4,18.7 0 0 0 1098.9,3145.2" fill="none" stroke="#cf9538" stroke-width="2.2"/>
<path d="M1032.1,3153.0 A33.4,18.7 0 0 0 1098.9,3153.0" fill="none" stroke="#cf9538" stroke-width="2.2"/>
<path d="M1032.1,3160.8 A33.4,18.7 0 0 0 1098.9,3160.8" fill="none" stroke="#cf9538" stroke-width="2.2"/>
<path d="M1032.1,3168.6 A33.4,18.7 0 0 0 1098.9,3168.6" fill="none" stroke="#cf9538" stroke-width="2.2"/>
<ellipse cx="1065.5" cy="3075.0" rx="33.4" ry="18.7" fill="#e3a93f"/>
<ellipse cx="1065.5" cy="3074.5" rx="29.9" ry="16.2" fill="#f4d45a"/>
<text transform="translate(1065.5,3075.0) scale(1,0.62) rotate(-38)" x="0" y="13" text-anchor="middle" font-size="38" font-weight="700" fill="#dca53e">$</text>
<g transform="translate(860,3010) scale(0.27348)">
<polygon points="487,195 640,108 700,140 545,225" fill="#f64c2d"/>
<polygon points="590,75 778,55 745,172" fill="#f64c2d"/>
<polygon points="487,195 545,225 545,300 487,272" fill="#d93a20"/>
<polygon points="340,360 487,272 545,300 398,388" fill="#f64c2d"/>
<polygon points="340,360 398,388 398,462 340,435" fill="#d93a20"/>
<polygon points="185,520 340,435 398,462 243,548" fill="#f64c2d"/>
<polygon points="185,520 243,548 243,620 185,592" fill="#d93a20"/>
<polygon points="45,672 185,592 243,620 100,708" fill="#f64c2d"/>
</g>
<path d="M981.4,3128.4 L981.4,3204.3 A33.4,18.7 0 0 0 1048.2,3204.3 L1048.2,3128.4 Z" fill="#e6ab42"/>
<path d="M981.4,3136.2 A33.4,18.7 0 0 0 1048.2,3136.2" fill="none" stroke="#cf9538" stroke-width="2.2"/>
<path d="M981.4,3144.0 A33.4,18.7 0 0 0 1048.2,3144.0" fill="none" stroke="#cf9538" stroke-width="2.2"/>
<path d="M981.4,3151.8 A33.4,18.7 0 0 0 1048.2,3151.8" fill="none" stroke="#cf9538" stroke-width="2.2"/>
<path d="M981.4,3159.6 A33.4,18.7 0 0 0 1048.2,3159.6" fill="none" stroke="#cf9538" stroke-width="2.2"/>
<path d="M981.4,3167.4 A33.4,18.7 0 0 0 1048.2,3167.4" fill="none" stroke="#cf9538" stroke-width="2.2"/>
<path d="M981.4,3175.2 A33.4,18.7 0 0 0 1048.2,3175.2" fill="none" stroke="#cf9538" stroke-width="2.2"/>
<path d="M981.4,3183.0 A33.4,18.7 0 0 0 1048.2,3183.0" fill="none" stroke="#cf9538" stroke-width="2.2"/>
<path d="M981.4,3190.8 A33.4,18.7 0 0 0 1048.2,3190.8" fill="none" stroke="#cf9538" stroke-width="2.2"/>
<path d="M981.4,3198.6 A33.4,18.7 0 0 0 1048.2,3198.6" fill="none" stroke="#cf9538" stroke-width="2.2"/>
<ellipse cx="1014.8" cy="3128.4" rx="33.4" ry="18.7" fill="#e3a93f"/>
<ellipse cx="1014.8" cy="3127.9" rx="29.9" ry="16.2" fill="#f4d45a"/>
<text transform="translate(1014.8,3128.4) scale(1,0.62) rotate(-38)" x="0" y="13" text-anchor="middle" font-size="38" font-weight="700" fill="#dca53e">$</text>
<path d="M932.2,3180.0 L932.2,3232.8 A33.4,18.7 0 0 0 999.0,3232.8 L999.0,3180.0 Z" fill="#e6ab42"/>
<path d="M932.2,3187.8 A33.4,18.7 0 0 0 999.0,3187.8" fill="none" stroke="#cf9538" stroke-width="2.2"/>
<path d="M932.2,3195.6 A33.4,18.7 0 0 0 999.0,3195.6" fill="none" stroke="#cf9538" stroke-width="2.2"/>
<path d="M932.2,3203.4 A33.4,18.7 0 0 0 999.0,3203.4" fill="none" stroke="#cf9538" stroke-width="2.2"/>
<path d="M932.2,3211.2 A33.4,18.7 0 0 0 999.0,3211.2" fill="none" stroke="#cf9538" stroke-width="2.2"/>
<path d="M932.2,3219.0 A33.4,18.7 0 0 0 999.0,3219.0" fill="none" stroke="#cf9538" stroke-width="2.2"/>
<path d="M932.2,3226.8 A33.4,18.7 0 0 0 999.0,3226.8" fill="none" stroke="#cf9538" stroke-width="2.2"/>
<ellipse cx="965.6" cy="3180.0" rx="33.4" ry="18.7" fill="#e3a93f"/>
<ellipse cx="965.6" cy="3179.5" rx="29.9" ry="16.2" fill="#f4d45a"/>
<text transform="translate(965.6,3180.0) scale(1,0.62) rotate(-38)" x="0" y="13" text-anchor="middle" font-size="38" font-weight="700" fill="#dca53e">$</text>
<path d="M882.2,3231.0 L882.2,3263.0 A33.4,18.7 0 0 0 949.0,3263.0 L949.0,3231.0 Z" fill="#e6ab42"/>
<path d="M882.2,3238.8 A33.4,18.7 0 0 0 949.0,3238.8" fill="none" stroke="#cf9538" stroke-width="2.2"/>
<path d="M882.2,3246.6 A33.4,18.7 0 0 0 949.0,3246.6" fill="none" stroke="#cf9538" stroke-width="2.2"/>
<path d="M882.2,3254.4 A33.4,18.7 0 0 0 949.0,3254.4" fill="none" stroke="#cf9538" stroke-width="2.2"/>
<ellipse cx="915.6" cy="3231.0" rx="33.4" ry="18.7" fill="#e3a93f"/>
<ellipse cx="915.6" cy="3230.5" rx="29.9" ry="16.2" fill="#f4d45a"/>
<text transform="translate(915.6,3231.0) scale(1,0.62) rotate(-38)" x="0" y="13" text-anchor="middle" font-size="38" font-weight="700" fill="#dca53e">$</text>
</svg>
<svg width="1200" height="200" viewBox="0 3474 1200 200" style="top:3474px">
<g id="vv">
<polygon points="840,3529.6 876.4,3529.6 901.4,3569 911,3529.6 937,3529.6 901.5,3613.5 888.5,3613.5" fill="#e93a33"/>
<polygon points="858,3529.6 876.4,3529.6 901.4,3569 906,3603 901.5,3613.5 894,3613.5" fill="#d4302c"/>
</g>
<g transform="translate(149,0)">
<polygon points="840,3529.6 876.4,3529.6 901.4,3569 911,3529.6 937,3529.6 901.5,3613.5 888.5,3613.5" fill="#e93a33"/>
<polygon points="858,3529.6 876.4,3529.6 901.4,3569 906,3603 901.5,3613.5 894,3613.5" fill="#d4302c"/>
</g>
<circle cx="962" cy="3570.6" r="42" fill="#175a9f"/>
<path d="M926,3549 A42,42 0 0 1 993,3542.5 Z" fill="#123f73"/>
<path d="M930,3598 A42,42 0 0 0 1004,3572 L1001,3556 Z" fill="#124479"/>
<polygon points="950,3553.5 950,3588 983.5,3570.6" fill="#e93a33" stroke="#ffffff" stroke-width="3" stroke-linejoin="round"/>
<polygon points="1054.5,3601 1054.5,3610.5 1063.5,3605.7" fill="#e93a33"/>
<text x="1069" y="3610" font-size="32" font-weight="700" fill="#14416f" letter-spacing="0.5">VN</text>
</svg>

</body></html>
